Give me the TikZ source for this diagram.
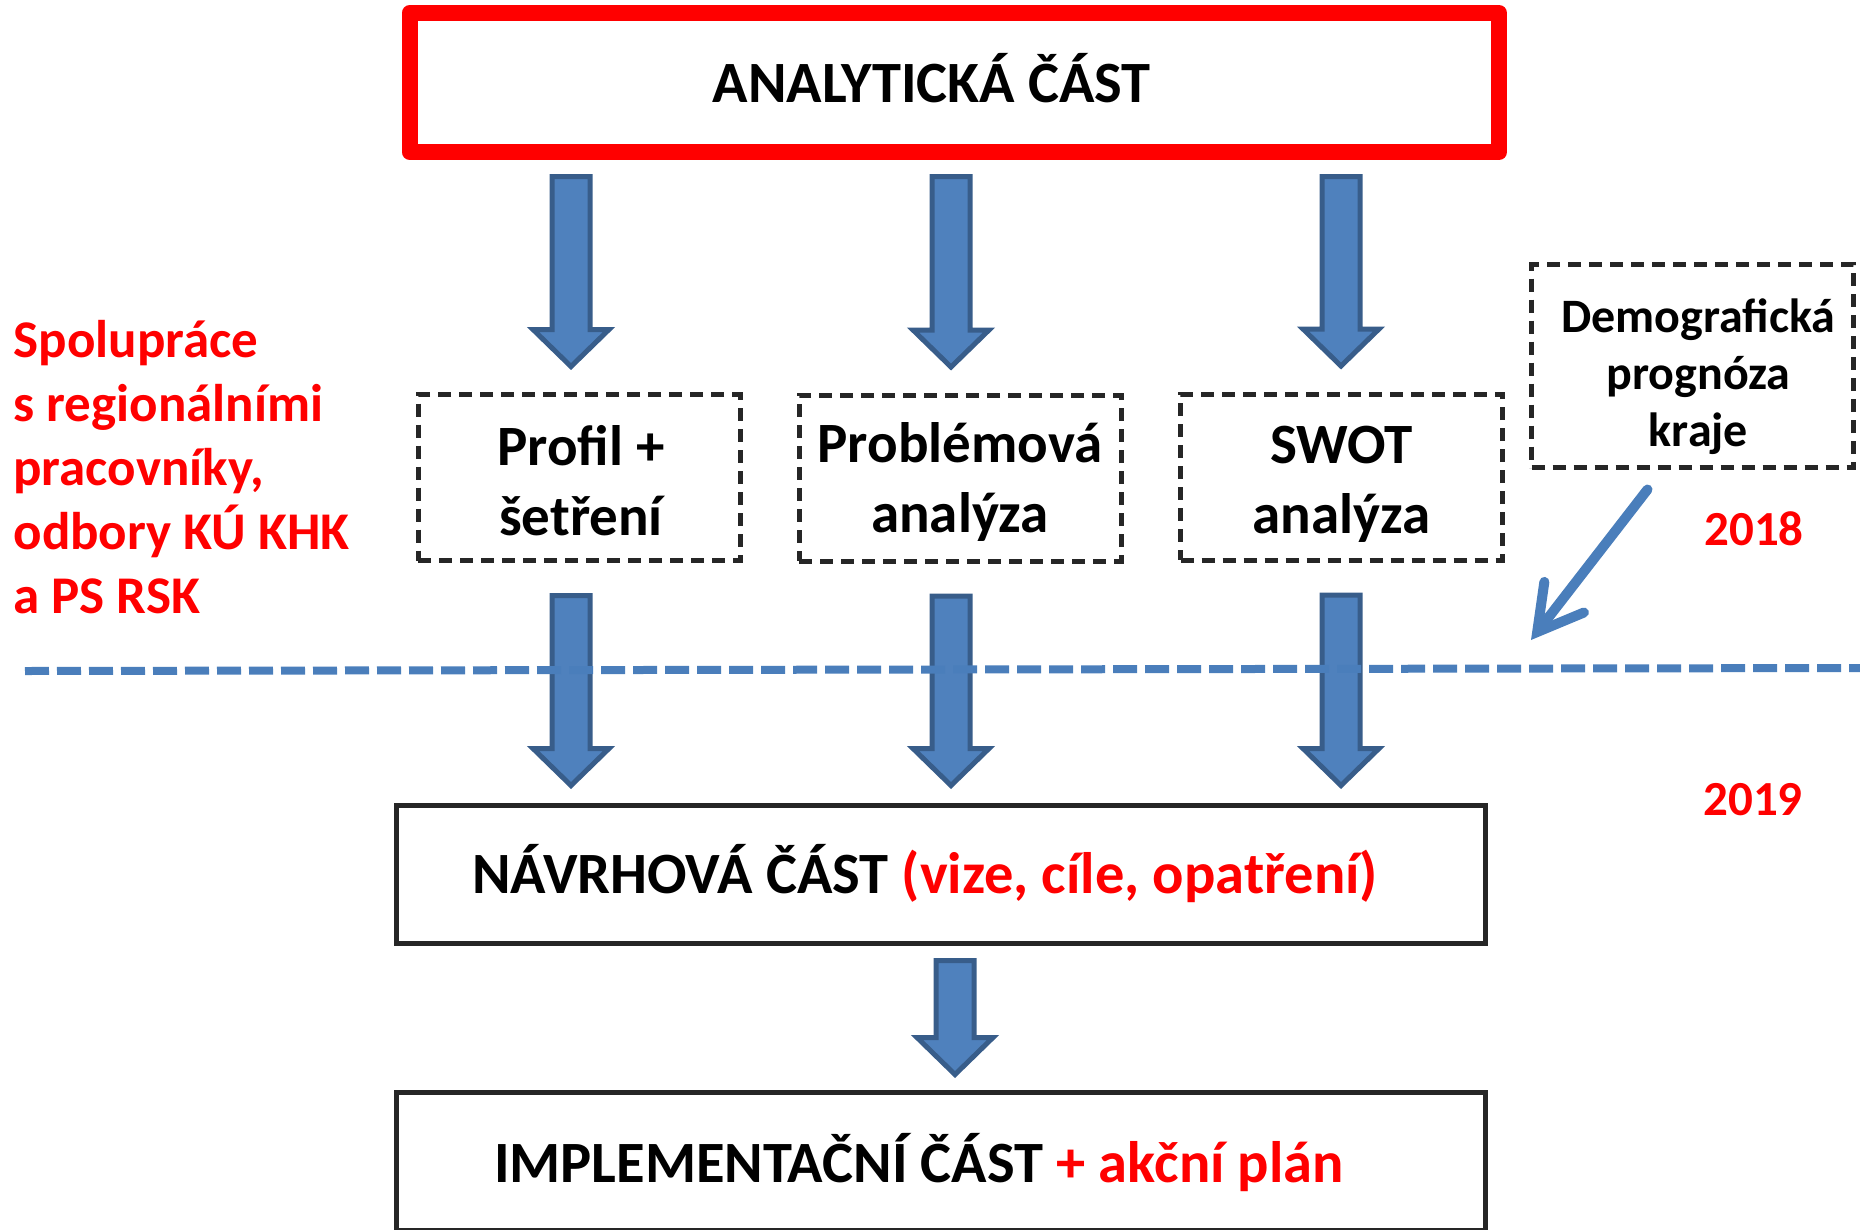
\documentclass[tikz,border=0pt]{standalone}
\usepackage{fontspec}
\setmainfont{Carlito}
\usetikzlibrary{arrows.meta,calc}

\definecolor{arrowfill}{HTML}{4F81BD}
\definecolor{arrowedge}{HTML}{385D8A}
\definecolor{lineblue}{HTML}{4A7EBB}
\definecolor{boxline}{HTML}{262626}

\tikzset{
  redbox/.style={draw=red, line width=16pt, line join=round, minimum width=1089.5pt,
    minimum height=139pt, inner sep=0pt, outer sep=0pt},
  dashbox/.style={draw=boxline, line width=5pt, dash pattern=on 13pt off 8pt, minimum width=322pt,
    minimum height=166pt, inner sep=0pt, outer sep=0pt},
  plainbox/.style={draw=boxline, line width=5pt, minimum width=1089pt, minimum height=138pt,
    inner sep=0pt, outer sep=0pt},
  bigtext/.style={inner sep=0pt, align=center, font=\fontsize{58.5}{70}\selectfont\bfseries},
  yeartext/.style={text=red, font=\fontsize{49}{59}\selectfont\bfseries},
  blockarr/.style={draw=arrowedge, fill=arrowfill, line width=5pt,
    to path={let \p1=(\tikztostart), \p2=(\tikztotarget) in
      (\x1-19pt,\y1) -- (\x1-19pt,\y2+37pt) -- (\x1-38pt,\y2+37pt) -- (\x1,\y2)
      -- (\x1+38pt,\y2+37pt) -- (\x1+19pt,\y2+37pt) -- (\x1+19pt,\y1) -- cycle}}
}

\begin{document}
\begin{tikzpicture}[x=1pt,y=-1pt]
    \useasboundingbox (0,0) rectangle (1860,1229);
    \clip (0,0) rectangle (1860,1229);

    \node[redbox] (analyt) at (954.25,82.5) {};
    \node[bigtext] (analyttxt) at ($(analyt)+(-22.5,-4)$) {ANALYTICKÁ ČÁST};

    \node[dashbox] (prof) at (579,477.5) {};
    \node[dashbox] (probl) at (960,478) {};
    \node[dashbox] (swot) at (1341.5,477) {};
    \node[bigtext, font=\fontsize{57}{70}\selectfont\bfseries] (proftxt) at ($(prof)+(2,3)$) {Profil +\\šetření};
    \node[bigtext, font=\fontsize{57}{70}\selectfont\bfseries] (probltxt) at ($(probl)+(0,4)$) {Problémová\\analýza};
    \node[bigtext, font=\fontsize{57}{70}\selectfont\bfseries] (swottxt) at ($(swot)+(0,7)$) {SWOT\\analýza};

    \node[dashbox, minimum height=203pt] (demo) at (1692.5,366) {};
    \node[bigtext, font=\fontsize{48}{57}\selectfont\bfseries] (demotxt) at ($(demo)+(6,11)$) {Demografická\\prognóza\\kraje};

    \node[plainbox] (navrh) at (940.5,874) {};
    \node[bigtext] (navrhtxt) at ($(navrh)+(-15.5,0)$) {NÁVRHOVÁ ČÁST \textcolor{red}{(vize, cíle, opatření)}};
    \node[plainbox] (impl) at (940.5,1161) {};
    \node[bigtext] (impltxt) at ($(impl)+(-21.5,2)$) {IMPLEMENTAČNÍ ČÁST \textcolor{red}{+ akční plán}};

    \node[anchor=base west, align=left, text=red, font=\fontsize{53}{64}\selectfont\bfseries] (spol) at (10,613)
        {Spolupráce\\s regionálními\\pracovníky,\\odbory KÚ KHK\\a PS RSK};
    \node[yeartext] (y18) at (1754,529) {2018};
    \node[yeartext] (y19) at (1753,800) {2019};

    % block arrows
    \coordinate (col1) at (571,0);
    \coordinate (col2) at (951,0);
    \coordinate (col3) at (1341,0);
    \coordinate (col4) at (955,0);
    \foreach \c/\b in {col1/prof, col2/probl, col3/swot}{
        \draw[blockarr] ($(\c |- analyt.south)+(0,24.5)$) to ($(\c |- \b.north)+(0,-28)$);
        \draw[blockarr] ($(\c |- \b.south)+(0,35)$) to ($(\c |- navrh.north)+(0,-19.5)$);
    }
    \draw[blockarr] ($(col4 |- navrh.south)+(0,17.5)$) to ($(col4 |- impl.north)+(0,-17.5)$);

    \draw[lineblue, line width=8pt, dash pattern=on 24pt off 8pt] (25,671) -- (1860,668);

    \coordinate (demotip) at (1531,640);
    \draw[lineblue, line width=10pt, line cap=round, -{Straight Barb[length=44pt, width=50pt, line cap=round]}]
        ($(demo.south)+(-45,22)$) -- (demotip);
\end{tikzpicture}
\end{document}
